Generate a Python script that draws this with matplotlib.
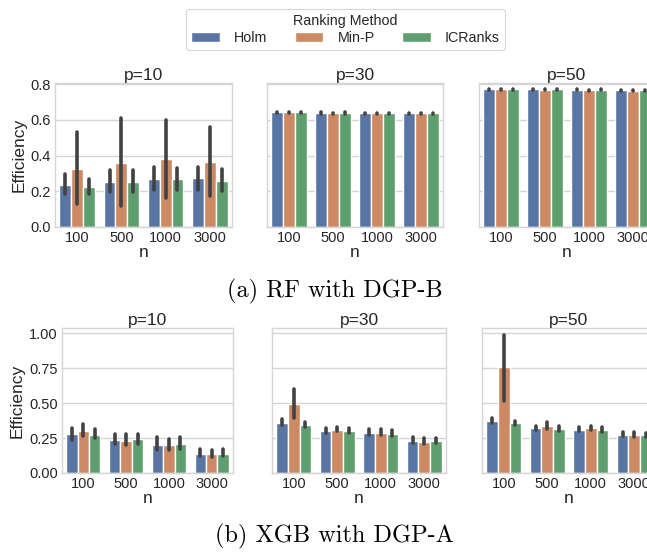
import colorsys
import numpy as np
import matplotlib
matplotlib.use("Agg")
import matplotlib.pyplot as plt
from matplotlib.colors import to_rgb
from matplotlib.patches import Patch

plt.rcParams["font.family"] = ["Liberation Sans", "DejaVu Sans"]

n_labels = ["100", "500", "1000", "3000"]
methods = ["Holm", "Min-P", "ICRanks"]
p_titles = ["p=10", "p=30", "p=50"]
base_colors = ["#4C72B0", "#DD8452", "#55A868"]

# Each array: rows = method (Holm, Min-P, ICRanks), columns = n
rf_p10_mean = [[0.235, 0.254, 0.269, 0.273],
               [0.327, 0.359, 0.380, 0.363],
               [0.223, 0.254, 0.269, 0.258]]
rf_p10_lo = [[0.183, 0.196, 0.210, 0.210],
             [0.127, 0.116, 0.165, 0.172],
             [0.187, 0.196, 0.210, 0.202]]
rf_p10_hi = [[0.295, 0.318, 0.336, 0.336],
             [0.533, 0.613, 0.598, 0.561],
             [0.268, 0.318, 0.333, 0.324]]

rf_p30_mean = [[0.643, 0.639, 0.638, 0.638],
               [0.642, 0.638, 0.637, 0.637],
               [0.643, 0.639, 0.638, 0.638]]
rf_p30_lo = [[0.639, 0.636, 0.635, 0.635],
             [0.638, 0.635, 0.634, 0.634],
             [0.639, 0.636, 0.635, 0.635]]
rf_p30_hi = [[0.646, 0.642, 0.641, 0.641],
             [0.645, 0.641, 0.640, 0.640],
             [0.646, 0.642, 0.641, 0.641]]

rf_p50_mean = [[0.772, 0.771, 0.769, 0.767],
               [0.771, 0.769, 0.767, 0.764],
               [0.772, 0.771, 0.769, 0.766]]
rf_p50_lo = [[0.769, 0.768, 0.766, 0.764],
             [0.768, 0.766, 0.764, 0.761],
             [0.769, 0.768, 0.766, 0.763]]
rf_p50_hi = [[0.775, 0.774, 0.772, 0.770],
             [0.774, 0.772, 0.770, 0.767],
             [0.775, 0.774, 0.772, 0.769]]

xgb_p10_mean = [[0.282, 0.235, 0.203, 0.139],
                [0.302, 0.230, 0.199, 0.134],
                [0.275, 0.240, 0.208, 0.139]]
xgb_p10_lo = [[0.239, 0.206, 0.163, 0.120],
              [0.263, 0.199, 0.163, 0.115],
              [0.247, 0.206, 0.168, 0.120]]
xgb_p10_hi = [[0.325, 0.282, 0.254, 0.175],
              [0.350, 0.278, 0.246, 0.163],
              [0.314, 0.282, 0.258, 0.175]]

xgb_p30_mean = [[0.354, 0.302, 0.285, 0.230],
                [0.491, 0.309, 0.285, 0.220],
                [0.340, 0.302, 0.282, 0.227]]
xgb_p30_lo = [[0.342, 0.287, 0.275, 0.215],
              [0.390, 0.299, 0.275, 0.208],
              [0.326, 0.285, 0.263, 0.213]]
xgb_p30_hi = [[0.383, 0.318, 0.311, 0.256],
              [0.601, 0.330, 0.316, 0.249],
              [0.366, 0.323, 0.306, 0.251]]

xgb_p50_mean = [[0.373, 0.318, 0.309, 0.273],
                [0.754, 0.335, 0.318, 0.270],
                [0.354, 0.316, 0.304, 0.268]]
xgb_p50_lo = [[0.354, 0.306, 0.299, 0.263],
              [0.517, 0.314, 0.306, 0.260],
              [0.340, 0.302, 0.290, 0.258]]
xgb_p50_hi = [[0.395, 0.335, 0.330, 0.294],
              [0.987, 0.364, 0.335, 0.290],
              [0.373, 0.335, 0.326, 0.286]]


def desaturate(color, prop):
    h, l, s = colorsys.rgb_to_hls(*to_rgb(color))
    return colorsys.hls_to_rgb(h, l, s * prop)


colors = [desaturate(c, 0.75) for c in base_colors]

rows = [
    {"data": [(rf_p10_mean, rf_p10_lo, rf_p10_hi),
              (rf_p30_mean, rf_p30_lo, rf_p30_hi),
              (rf_p50_mean, rf_p50_lo, rf_p50_hi)],
     "ylim": 0.807, "yticks": [0.0, 0.2, 0.4, 0.6, 0.8], "fmt": "{:.1f}",
     "caption": "(a) RF with DGP-B"},
    {"data": [(xgb_p10_mean, xgb_p10_lo, xgb_p10_hi),
              (xgb_p30_mean, xgb_p30_lo, xgb_p30_hi),
              (xgb_p50_mean, xgb_p50_lo, xgb_p50_hi)],
     "ylim": 1.036, "yticks": [0.0, 0.25, 0.5, 0.75, 1.0], "fmt": "{:.2f}",
     "caption": "(b) XGB with DGP-A"},
]

W, H = 647, 554
fig = plt.figure(figsize=(W / 100, H / 100), dpi=100)

# axes boxes in pixels: (left, top, width, height)
row_boxes = [
    [(55, 83, 177, 144), (267, 83, 176, 144), (479, 83, 176, 144)],
    [(62, 328, 171, 145), (272, 328, 174, 145), (482, 328, 174, 145)],
]
caption_y = [291.5, 536]

grid_c = "#d5d5d5"
text_c = "#262626"
err_c = "#424242"
bar_w = 0.8 / 3

for r, row in enumerate(rows):
    for c, (mean, lo, hi) in enumerate(row["data"]):
        l, t, w, h = row_boxes[r][c]
        ax = fig.add_axes([l / W, 1 - (t + h) / H, w / W, h / H])
        ax.set_facecolor("white")
        x = np.arange(len(n_labels))
        for m in range(len(methods)):
            xs = x - 0.4 + bar_w * (m + 0.5)
            ax.bar(xs, mean[m], width=bar_w, color=colors[m],
                   edgecolor="white", linewidth=1.0, zorder=2)
            for xi, a, b in zip(xs, lo[m], hi[m]):
                ax.plot([xi, xi], [a, b], color=err_c, lw=2.6,
                        solid_capstyle="round", zorder=3)
        ax.set_xlim(-0.5, len(n_labels) - 0.5)
        ax.set_ylim(0, row["ylim"])
        ax.set_xticks(x)
        ax.set_xticklabels(n_labels)
        ax.set_yticks(row["yticks"])
        if c == 0:
            ax.set_yticklabels([row["fmt"].format(v) for v in row["yticks"]])
            ax.set_ylabel("Efficiency", fontsize=12.5, color=text_c, labelpad=3)
        else:
            ax.set_yticklabels([])
        ax.set_xlabel("n", fontsize=12.5, color=text_c, labelpad=0)
        ax.set_title(p_titles[c], fontsize=12.5, color=text_c, pad=2)
        ax.tick_params(length=0, labelsize=10.5, colors=text_c, pad=3)
        ax.yaxis.grid(True, color=grid_c, lw=1.0, zorder=0)
        ax.xaxis.grid(False)
        ax.set_axisbelow(True)
        for s in ax.spines.values():
            s.set_color(grid_c)
            s.set_linewidth(1.0)
    fig.text(334.5 / W, 1 - caption_y[r] / H, row["caption"], family="cmr10",
             fontsize=17.5, ha="center", va="center", color="black")

handles = [Patch(facecolor=colors[i], edgecolor="white", label=methods[i])
           for i in range(len(methods))]
leg = fig.legend(handles=handles, title="Ranking Method", ncol=3,
                 loc="center", bbox_to_anchor=(345.5 / W, 1 - 29.5 / H),
                 fontsize=10.3, title_fontsize=10.3, frameon=True,
                 columnspacing=1.9, handlelength=2.0, borderpad=0.35,
                 labelspacing=0.2, handletextpad=1.0)
leg.get_frame().set_edgecolor("#cccccc")
leg.get_frame().set_linewidth(0.8)
leg.get_title().set_color(text_c)
for txt in leg.get_texts():
    txt.set_color(text_c)

fig.savefig("out.png", dpi=100, facecolor="white")
